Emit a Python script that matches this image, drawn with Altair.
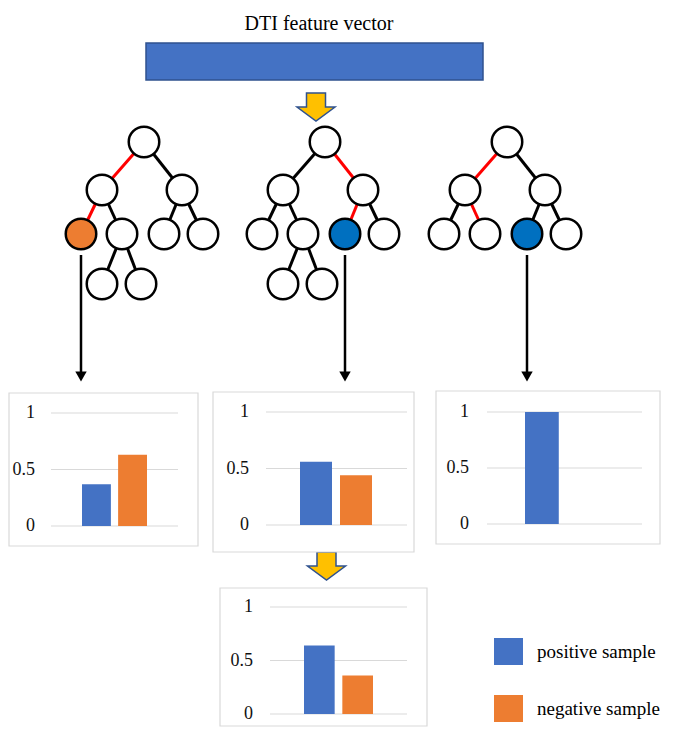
import altair as alt
import pandas as pd

# ---------------- data ----------------
title_text = ["DTI feature vector"]
categories = ["positive sample", "negative sample"]
tree1_probs = [0.37, 0.63]
tree2_probs = [0.56, 0.44]
tree3_probs = [1.0, 0.0]
avg_probs = [0.64, 0.36]
tick_values = [0, 0.5, 1]
tick_labels = ["0", "0.5", "1"]

# tree structure: nodes named by their path from the root (L = left, R = right)
tree_nodes = [
    ["", "L", "R", "LL", "LR", "RL", "RR", "LRL", "LRR"],
    ["", "L", "R", "LL", "LR", "RL", "RR", "LRL", "LRR"],
    ["", "L", "R", "LL", "LR", "RL", "RR"],
]
decision_leaf = ["LL", "RL", "RL"]
leaf_class = ["negative sample", "positive sample", "positive sample"]
red_path = [["L", "LL"], ["R", "RL"], ["L", "LR"]]

# ---------------- styles / layout ----------------
M = 8
W, H = 669, 719
BLUE = "#4472C4"
ORANGE = "#ED7D31"
NODE_BLUE = "#0070C0"
RED = "#FF0000"
GRID = "#D9D9D9"
FONT = "Liberation Serif"

tree_root_x = [144, 325, 507]
level_y = [142, 190, 234, 284]
node_dx = {"": 0, "L": -42, "R": 38, "LL": -63, "LR": -22, "RL": 20,
           "RR": 59, "LRL": -42, "LRR": -3}
class_fill = {"negative sample": ORANGE, "positive sample": NODE_BLUE}

XS = alt.Scale(domain=[M, M + W], range=[0, W], nice=False, zero=False)
YS = alt.Scale(domain=[M, M + H], range=[0, H], nice=False, zero=False)


def X(f):
    return alt.X(f, scale=XS, axis=None)


def Y(f):
    return alt.Y(f, scale=YS, axis=None)


# ---- build tree tables ----
node_rows, edge_rows, leaf_rows = [], [], []
for t, nodes in enumerate(tree_nodes):
    rx = tree_root_x[t]
    pos = {p: (rx + node_dx[p], level_y[len(p)]) for p in nodes}
    for p in nodes:
        fill = class_fill[leaf_class[t]] if p == decision_leaf[t] else "white"
        node_rows.append(dict(x=pos[p][0], y=pos[p][1], nf=fill))
        if p:
            par = p[:-1]
            edge_rows.append(dict(x=pos[par][0], y=pos[par][1],
                                  x2=pos[p][0], y2=pos[p][1],
                                  ec=RED if p in red_path[t] else "black"))
    lx = pos[decision_leaf[t]][0]
    leaf_rows.append(dict(x=lx, y=255, y2=372, yh=376.5))

nodes_df = pd.DataFrame(node_rows)
edges_df = pd.DataFrame(edge_rows)
leaf_df = pd.DataFrame(leaf_rows)

# ---- canvas layers ----
title = alt.Chart(pd.DataFrame({"x": [319], "y": [30], "t": title_text})).mark_text(
    font=FONT, fontSize=20, color="black", baseline="alphabetic", align="center"
).encode(x=X("x:Q"), y=Y("y:Q"), text="t:N")

vector = alt.Chart(pd.DataFrame({"x0": [146], "x1": [483], "y0": [43], "y1": [80]})).mark_rect(
    fill=BLUE, stroke="#2F528F", strokeWidth=1.5
).encode(x=X("x0:Q"), x2="x1:Q", y=Y("y0:Q"), y2="y1:Q")

ARROW = "M-0.5,-0.74 L0.5,-0.74 L0.5,0 L1,0 L0,0.74 L-1,0 L-0.5,0 Z"
arrows = alt.Chart(pd.DataFrame({"x": [316, 326.5], "y": [107, 566]})).mark_point(
    shape=ARROW, filled=True, fill="#FFC000", stroke="#2F528F", strokeWidth=1.5,
    size=38 * 38, opacity=1
).encode(x=X("x:Q"), y=Y("y:Q"))

edges = alt.Chart(edges_df).mark_rule(strokeWidth=3).encode(
    x=X("x:Q"), y=Y("y:Q"), x2="x2:Q", y2="y2:Q",
    color=alt.Color("ec:N", scale=None))

nodes = alt.Chart(nodes_df).mark_point(
    shape="circle", filled=True, stroke="black", strokeWidth=2.5, size=930,
    opacity=1, fillOpacity=1
).encode(x=X("x:Q"), y=Y("y:Q"), fill=alt.Fill("nf:N", scale=None))

leaf_lines = alt.Chart(leaf_df).mark_rule(strokeWidth=2.5, color="black").encode(
    x=X("x:Q"), y=Y("y:Q"), y2="y2:Q")

heads = alt.Chart(leaf_df).mark_point(
    shape="triangle-down", filled=True, color="black", size=130, opacity=1
).encode(x=X("x:Q"), y=Y("yh:Q"))

boxes_df = pd.DataFrame({
    "x0": [9, 213, 436, 220],
    "x1": [198, 414, 660, 427],
    "y0": [393, 392, 391, 588],
    "y1": [546, 552, 544, 726],
})
boxes = alt.Chart(boxes_df).mark_rect(fill="white", stroke=GRID, strokeWidth=1.2).encode(
    x=X("x0:Q"), x2="x1:Q", y=Y("y0:Q"), y2="y1:Q")

leg_df = pd.DataFrame({"cat": categories, "y0": [638, 695], "y1": [665, 722],
                       "ym": [651.5, 708.5], "x0": [494, 494], "x1": [523, 523],
                       "xt": [537, 537]})
leg_rect = alt.Chart(leg_df).mark_rect().encode(
    x=X("x0:Q"), x2="x1:Q", y=Y("y0:Q"), y2="y1:Q",
    color=alt.Color("cat:N", scale=alt.Scale(domain=categories, range=[BLUE, ORANGE]), legend=None))
leg_text = alt.Chart(leg_df).mark_text(
    font=FONT, fontSize=19, color="black", align="left", baseline="middle"
).encode(x=X("xt:Q"), y=Y("ym:Q"), text="cat:N")

canvas = alt.layer(title, vector, arrows, edges, nodes, leaf_lines, heads, boxes,
                   leg_rect, leg_text)


# ---- bar panels ----
def panel(values, grid_x, y0, y1, label_right, bar_x, pad=0.2):
    df = pd.DataFrame({"cat": categories, "v": values})
    ticks = pd.DataFrame({"t": tick_values, "lab": tick_labels})
    ys = alt.Scale(domain=[0, 1], range=[y0 - M, y1 - M], nice=False, zero=False)
    xs = alt.Scale(domain=categories, range=[bar_x[0] - M, bar_x[1] - M],
                   paddingInner=pad, paddingOuter=0)
    grid = alt.Chart(ticks).mark_rule(color=GRID, strokeWidth=1.2).encode(
        y=alt.Y("t:Q", scale=ys, axis=None),
        x=alt.value(grid_x[0] - M), x2=alt.value(grid_x[1] - M))
    labels = alt.Chart(ticks).mark_text(
        font=FONT, fontSize=18, color="#111111", align="right", baseline="middle"
    ).encode(y=alt.Y("t:Q", scale=ys, axis=None), x=alt.value(label_right - M),
             text="lab:N")
    bars = alt.Chart(df).mark_bar().encode(
        x=alt.X("cat:N", scale=xs, axis=None, sort=categories),
        y=alt.Y("v:Q", scale=ys, axis=None),
        color=alt.Color("cat:N", scale=alt.Scale(domain=categories, range=[BLUE, ORANGE]),
                        legend=None))
    return alt.layer(grid, labels, bars)


p1 = panel(tree1_probs, (51, 178), 526, 413, 35, (82, 147))
p2 = panel(tree2_probs, (266, 407), 525, 412, 249, (300, 372))
p3 = panel(tree3_probs, (487, 642), 524, 412, 469, (525, 601))
p4 = panel(avg_probs, (270, 407), 714, 607, 253, (304, 373))

chart = alt.layer(canvas, p1, p2, p3, p4).resolve_scale(
    x="independent", y="independent", color="independent", fill="independent"
).properties(
    width=W, height=H, autosize=alt.AutoSizeParams(type="none"), padding=0,
    background="white"
).configure_view(stroke=None)

chart.save("out.html", embed_options={"renderer": "svg", "actions": False})
